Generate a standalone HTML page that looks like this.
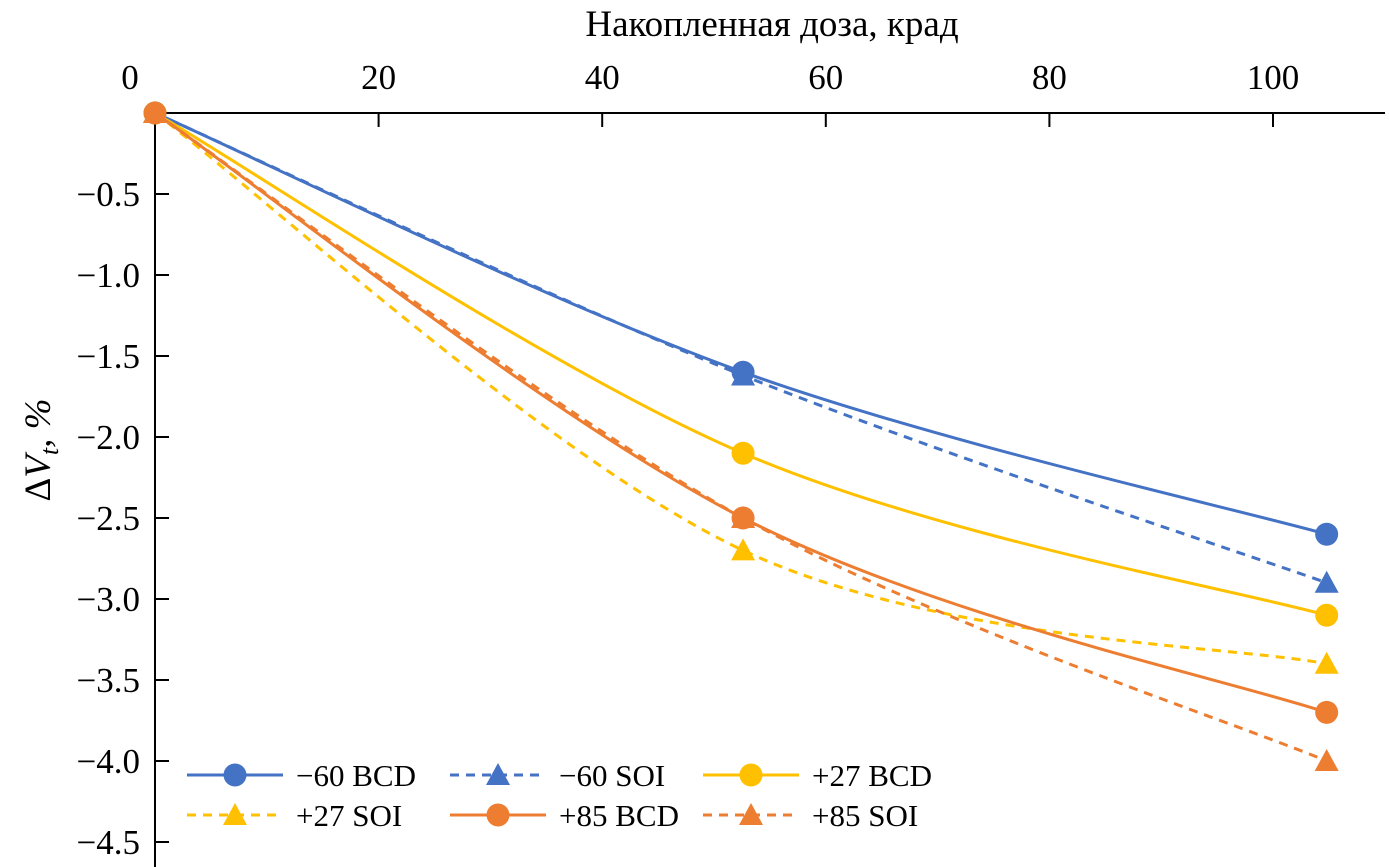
<!DOCTYPE html>
<html><head><meta charset="utf-8"><style>
body{margin:0;background:#fff}
svg{display:block;font-family:"Liberation Serif",serif}
</style></head><body>
<svg id="c" width="1389" height="867"></svg>
<script>
const doses=[0,52.6,104.8];
const seriesNames=["−60 BCD","−60 SOI","+27 BCD","+27 SOI","+85 BCD","+85 SOI"];
const s60bcd=[0,-1.6,-2.6];
const s60soi=[0,-1.62,-2.9];
const s27bcd=[0,-2.1,-3.1];
const s27soi=[0,-2.7,-3.4];
const s85bcd=[0,-2.5,-3.7];
const s85soi=[0,-2.5,-4.0];
const xTicks=[0,20,40,60,80,100];
const yTicks=[-0.5,-1.0,-1.5,-2.0,-2.5,-3.0,-3.5,-4.0,-4.5];
const ns="http://www.w3.org/2000/svg",svg=document.getElementById('c');
const X=d=>155+d*11.18, Y=v=>113+v*(-162);
function el(t,a,p){const e=document.createElementNS(ns,t);for(const k in a)e.setAttribute(k,a[k]);(p||svg).appendChild(e);return e;}
const ax=el('g',{});


el('line',{x1:155,y1:Y(0),x2:1385,y2:Y(0),stroke:'#000','stroke-width':2},ax);
el('line',{x1:155,y1:Y(0),x2:155,y2:867,stroke:'#000','stroke-width':2},ax);
xTicks.forEach(t=>{
 if(t>0)el('line',{x1:X(t),y1:Y(0),x2:X(t),y2:Y(0)+14,stroke:'#000','stroke-width':2},ax);
 const tx=el('text',{x:t===0?130:X(t),y:89,'text-anchor':'middle','font-size':35},ax);tx.textContent=t;
 
 
});
yTicks.forEach(t=>{
 el('line',{x1:155,y1:Y(t),x2:169,y2:Y(t),stroke:'#000','stroke-width':2},ax);
 const tx=el('text',{x:140,y:Y(t)+12,'text-anchor':'end','font-size':35},ax);tx.textContent=t.toFixed(1).replace('-','−');
 
 
});
const xt=el('text',{x:772,y:36,'text-anchor':'middle','font-size':37});xt.textContent='Накопленная доза, крад';


const yt=el('text',{transform:'translate(50,450) rotate(-90)','text-anchor':'middle','font-size':37});
yt.innerHTML='Δ<tspan font-style="italic">V<tspan font-size="26" dy="8">t</tspan></tspan><tspan dy="-8" font-style="italic">, %</tspan>';


function path(vals){
 const p=vals.map((v,i)=>[X(doses[i]),Y(v)]);let d=`M${p[0][0]},${p[0][1]}`;
 for(let i=0;i<p.length-1;i++){const p0=p[i-1]||p[i],p1=p[i],p2=p[i+1],p3=p[i+2]||p[i+1];const t=1/6;
  d+=` C${p1[0]+(p2[0]-p0[0])*t},${p1[1]+(p2[1]-p0[1])*t} ${p2[0]-(p3[0]-p1[0])*t},${p2[1]-(p3[1]-p1[1])*t} ${p2[0]},${p2[1]}`;}
 return d;}
function marker(g,x,y,tri,c){if(tri)el('polygon',{points:`${x},${y-12} ${x+12},${y+10} ${x-12},${y+10}`,fill:c},g);else el('circle',{cx:x,cy:y,r:11.5,fill:c},g);}
const defs=[[s60bcd,'#4472C4',0,0],[s60soi,'#4472C4',1,1],[s27bcd,'#FFC000',0,0],[s27soi,'#FFC000',1,1],[s85bcd,'#ED7D31',0,0],[s85soi,'#ED7D31',1,1]];
const names=['series-60-bcd','series-60-soi','series-27-bcd','series-27-soi','series-85-bcd','series-85-soi'];
defs.forEach(([v,c,dash,tri],i)=>{
 const g=el('g',{});
 
 
 el('path',{d:path(v),fill:'none',stroke:c,'stroke-width':3,'stroke-dasharray':dash?'9,7':''},g);
 v.forEach((y,j)=>marker(g,X(doses[j]),Y(y),tri,c));
});
const lx=[187,450,703],ly=[775,815];
defs.forEach(([v,c,dash,tri],i)=>{
 const g=el('g',{});
 
 
 const x=lx[i%3],y=ly[Math.floor(i/3)];
 el('line',{x1:x,y1:y,x2:x+96,y2:y,stroke:c,'stroke-width':3,'stroke-dasharray':dash?'9,7':''},g);
 marker(g,x+48,y,tri,c);
 const t=el('text',{x:x+109,y:y+11,'font-size':31},g);t.textContent=seriesNames[i];
});
</script>
</body></html>
